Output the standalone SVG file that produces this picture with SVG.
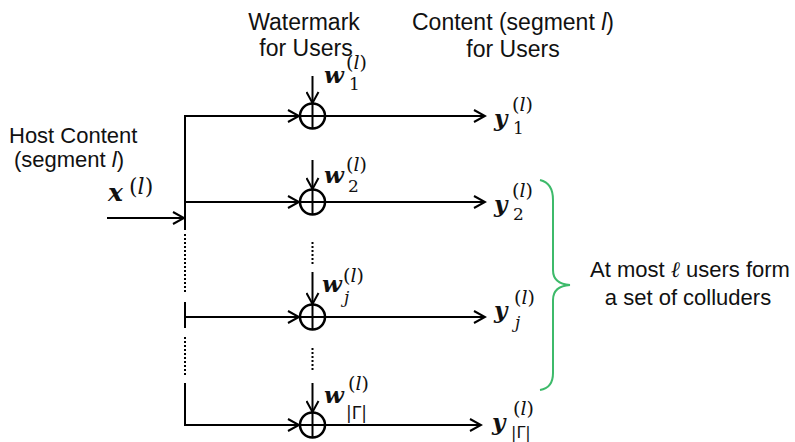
<svg xmlns="http://www.w3.org/2000/svg" width="795" height="442" viewBox="0 0 795 442">
<style>
.t{font-family:"Liberation Sans",Arial,sans-serif;font-size:23px;fill:#111}
.h{font-family:"Liberation Sans",Arial,sans-serif;font-size:22px;fill:#111}
.r{font-family:"Liberation Sans",Arial,sans-serif;font-size:22px;fill:#111}
.m{font-family:"DejaVu Serif",serif;font-weight:bold;font-style:italic;font-size:23px;fill:#111}
.s{font-family:"DejaVu Serif",serif;font-size:17px;fill:#111}
.g{font-family:"DejaVu Sans",sans-serif;font-size:17px;fill:#111}
.i{font-style:italic}
.ln{stroke:#000;stroke-width:2;fill:none}
.dot{stroke:#000;stroke-width:2;fill:none;stroke-dasharray:2 2}
.op{stroke:#000;stroke-width:2.5;fill:#fff}
.brace{stroke:#3dba6a;stroke-width:2;fill:none}
</style>
<defs>
<marker id="ah" markerUnits="userSpaceOnUse" markerWidth="14" markerHeight="14" refX="12" refY="7" orient="auto">
<path d="M1,1 L12,7 L1,13" fill="none" stroke="#000" stroke-width="2"/>
</marker>
<g id="plus">
<circle cx="0" cy="0" r="12.5" class="op"/>
<line x1="-12.5" y1="0" x2="12.5" y2="0" class="ln"/>
<line x1="0" y1="-12.5" x2="0" y2="12.5" class="ln"/>
</g>
</defs>

<g id="connectors">
<line x1="107" y1="218" x2="184" y2="218" class="ln" marker-end="url(#ah)"/>
<line x1="185" y1="115" x2="185" y2="230" class="ln"/>
<line x1="185" y1="234" x2="185" y2="293" class="dot"/>
<line x1="185" y1="302" x2="185" y2="328" class="ln"/>
<line x1="185" y1="337" x2="185" y2="375" class="dot"/>
<line x1="185" y1="383" x2="185" y2="426" class="ln"/>
<line x1="184" y1="116" x2="299" y2="116" class="ln" marker-end="url(#ah)"/>
<line x1="184" y1="202" x2="299" y2="202" class="ln" marker-end="url(#ah)"/>
<line x1="184" y1="317" x2="299" y2="317" class="ln" marker-end="url(#ah)"/>
<line x1="184" y1="425" x2="299" y2="425" class="ln" marker-end="url(#ah)"/>
<line x1="325" y1="116" x2="485" y2="116" class="ln" marker-end="url(#ah)"/>
<line x1="325" y1="202" x2="485" y2="202" class="ln" marker-end="url(#ah)"/>
<line x1="325" y1="317" x2="485" y2="317" class="ln" marker-end="url(#ah)"/>
<line x1="325" y1="425" x2="481" y2="425" class="ln" marker-end="url(#ah)"/>
<line x1="312.5" y1="76" x2="312.5" y2="103" class="ln" marker-end="url(#ah)"/>
<line x1="312.5" y1="160" x2="312.5" y2="189" class="ln" marker-end="url(#ah)"/>
<line x1="312.5" y1="242" x2="312.5" y2="265" class="dot"/>
<line x1="312.5" y1="272" x2="312.5" y2="304" class="ln" marker-end="url(#ah)"/>
<line x1="312.5" y1="348" x2="312.5" y2="372" class="dot"/>
<line x1="312.5" y1="383" x2="312.5" y2="412" class="ln" marker-end="url(#ah)"/>
</g>

<g id="adder1"><use href="#plus" x="312.5" y="116"/></g>
<g id="adder2"><use href="#plus" x="312.5" y="202"/></g>
<g id="adderj"><use href="#plus" x="312.5" y="317"/></g>
<g id="adderG"><use href="#plus" x="312.5" y="425"/></g>

<g id="labels-top">
<text class="t" x="304" y="30" text-anchor="middle">Watermark</text>
<text class="t" x="306" y="56" text-anchor="middle">for Users</text>
<text class="t" x="513" y="30" text-anchor="middle">Content (segment <tspan class="i">l</tspan>)</text>
<text class="t" x="513" y="57" text-anchor="middle">for Users</text>
</g>

<g id="host">
<text class="h" x="9" y="143">Host Content</text>
<text class="h" x="14" y="167">(segment <tspan class="i">l</tspan>)</text>
<text class="m" x="108" y="201" style="font-size:25px">x</text>
<text class="s" x="129" y="194" style="font-size:22px">(<tspan class="i">l</tspan>)</text>
</g>

<g id="w-labels">
<text class="m" x="324" y="83">w</text>
<text class="s" x="346" y="69" style="font-size:19px">(<tspan class="i">l</tspan>)</text>
<text class="s" x="349" y="90">1</text>

<text class="m" x="324" y="183">w</text>
<text class="s" x="346" y="171" style="font-size:19px">(<tspan class="i">l</tspan>)</text>
<text class="s" x="348" y="192">2</text>

<text class="m" x="322" y="292">w</text>
<text class="s" x="343" y="282" style="font-size:19px">(<tspan class="i">l</tspan>)</text>
<text class="s i" x="344" y="303">j</text>

<text class="m" x="324" y="403">w</text>
<text class="s" x="348" y="390" style="font-size:19px">(<tspan class="i">l</tspan>)</text>
<text class="g" x="346" y="419">|Γ|</text>
</g>

<g id="y-labels">
<text class="m" x="494" y="126">y</text>
<text class="s" x="512" y="111" style="font-size:19px">(<tspan class="i">l</tspan>)</text>
<text class="s" x="513" y="134">1</text>

<text class="m" x="494" y="212">y</text>
<text class="s" x="512" y="197" style="font-size:19px">(<tspan class="i">l</tspan>)</text>
<text class="s" x="513" y="220">2</text>

<text class="m" x="494" y="318">y</text>
<text class="s" x="514" y="304" style="font-size:19px">(<tspan class="i">l</tspan>)</text>
<text class="s i" x="515" y="328">j</text>

<text class="m" x="492" y="430">y</text>
<text class="s" x="513" y="415" style="font-size:19px">(<tspan class="i">l</tspan>)</text>
<text class="g" x="511" y="438" style="font-size:16px">|Γ|</text>
</g>

<g id="colluders">
<path class="brace" d="M540,180 Q553,183 553,200 L553,270 Q553,284 570,285 Q553,286 553,300 L553,373 Q553,388 540,390"/>
<text class="r" x="690" y="277" text-anchor="middle">At most <tspan style="font-family:'DejaVu Serif',serif;font-style:italic">ℓ</tspan> users form</text>
<text class="r" x="688" y="305" text-anchor="middle">a set of colluders</text>
</g>
</svg>
